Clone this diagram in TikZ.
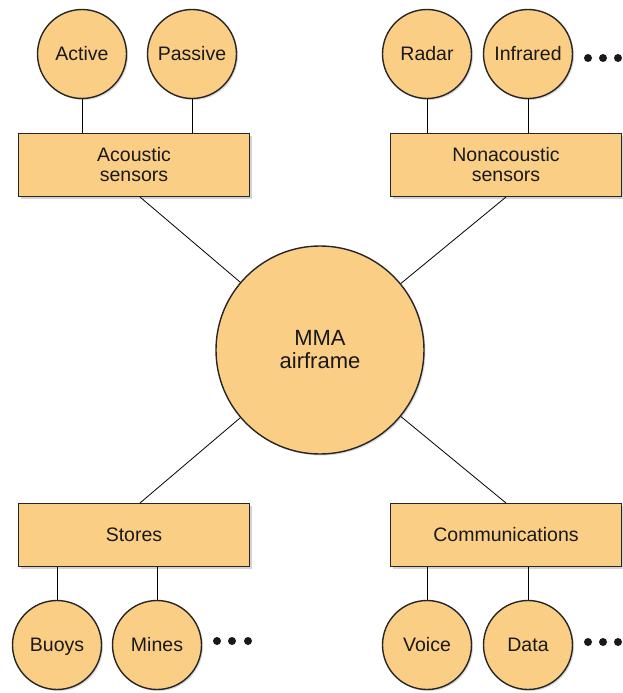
\documentclass[tikz,border=0pt]{standalone}
\usepackage{fontspec}
\setmainfont{Liberation Sans}
\usetikzlibrary{shadows}
\definecolor{mmafill}{RGB}{250,206,133}
\begin{document}
\begin{tikzpicture}[x=1pt,y=-1pt,
 circ/.style={circle,draw=black!85,line width=1.4pt,fill=mmafill,minimum size=89pt,inner sep=0pt,
   text=black!90,font=\fontsize{19.5}{20}\selectfont,
   drop shadow={opacity=0.3,shadow xshift=1.5pt,shadow yshift=-1.5pt}},
 box/.style={rectangle,draw=black!85,line width=1pt,fill=mmafill,minimum width=231pt,minimum height=63pt,
   align=center,text=black!90,font=\fontsize{19.5}{20}\selectfont,
   drop shadow={opacity=0.35,shadow xshift=2pt,shadow yshift=-2pt}}]
 \useasboundingbox (0,0) rectangle (623,693);
 \node[circ,minimum size=208pt,align=center,font=\fontsize{22}{23}\selectfont] (mma) at (320,350) {MMA\\airframe};
 \node[box] (acoustic) at (134,165) {Acoustic\\sensors};
 \node[box] (nonacoustic) at (506,165) {Nonacoustic\\sensors};
 \node[box] (stores) at (134,535) {Stores};
 \node[box] (comms) at (506,535) {Communications};
 \draw[line width=0.8pt] ([xshift=6pt]acoustic.south) -- (mma);
 \draw[line width=0.8pt] (nonacoustic.south) -- (mma);
 \draw[line width=0.8pt] ([xshift=6pt]stores.north) -- (mma);
 \draw[line width=0.8pt] (comms.north) -- (mma);
 \foreach \name/\x/\txt/\parent in {active/82/Active/acoustic,passive/192/Passive/acoustic,
   radar/427/Radar/nonacoustic,infrared/528/Infrared/nonacoustic}{
 	\node[circ,text height=14pt,text depth=2pt] (\name) at (\x,54) {\txt};
 	\draw[line width=0.8pt] (\name) -- (\name |- \parent.north);}
 \foreach \name/\x/\txt/\parent in {buoys/57/Buoys/stores,mines/157/Mines/stores,
   voice/427/Voice/comms,data/528/Data/comms}{
 	\node[circ,text height=14pt,text depth=2pt] (\name) at (\x,645) {\txt};
 	\draw[line width=0.8pt] (\name) -- (\name |- \parent.south);}
 \foreach \x in {588,603,618}{
 	\fill[black!90] (\x,58) circle (4);
 	\fill[black!90] (\x,642) circle (4);}
 \foreach \x in {217,232,248}{
 	\fill[black!90] (\x,641) circle (4);}
\end{tikzpicture}
\end{document}
